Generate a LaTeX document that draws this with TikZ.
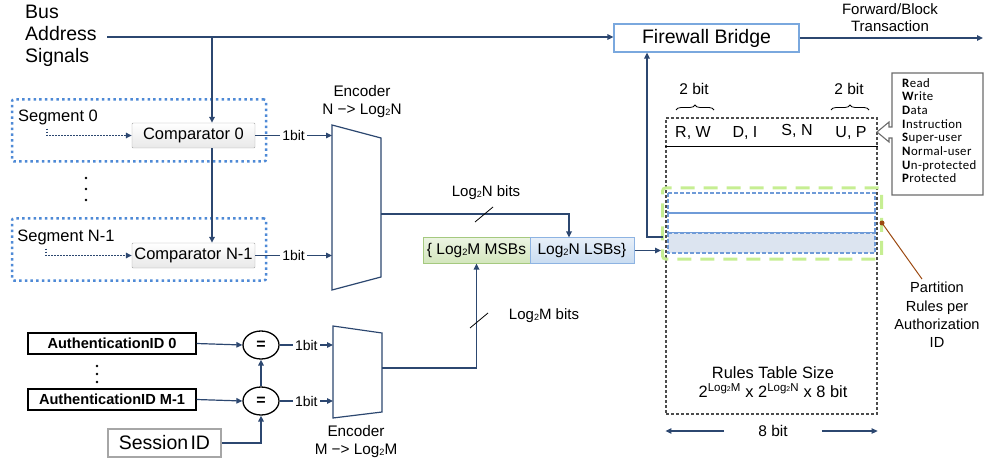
\documentclass[tikz,border=0pt]{standalone}
\usepackage{fontspec}
\usepackage{graphicx}
\setmainfont{Liberation Sans}
\newfontfamily\legendfont[LetterSpace=3]{Carlito}
\usetikzlibrary{arrows.meta,shapes.geometric,decorations.pathreplacing,calc}
\definecolor{navy}{HTML}{2C4770}
\definecolor{segblue}{HTML}{4F8AD6}
\definecolor{fwblue}{HTML}{7AA8DE}
\definecolor{lime}{HTML}{C6EE92}
\definecolor{rowblue}{HTML}{6F9BD8}
\definecolor{rowfill}{HTML}{DCE4F0}
\definecolor{brown}{HTML}{9C4A12}
\definecolor{greenfill}{HTML}{D3E6BD}
\definecolor{greenedge}{HTML}{A5C97F}
\definecolor{bluefill}{HTML}{C9DCF1}
\definecolor{blueedge}{HTML}{8DB3E2}
\newcommand\fsz[2]{\fontsize{#1}{#2}\selectfont}
\newcommand\lgtwo{Log\raisebox{-0.1ex}{\scalebox{0.6}{2}}}
\begin{document}
\begin{tikzpicture}[x=1pt,y=-1pt,
  wire/.style={draw=navy,line width=1.8pt},
  thinwire/.style={draw=navy,line width=1.2pt},
  arr/.style={-{Triangle[length=6pt,width=5.5pt]}},
  cmp/.style={draw=gray!70,top color=white,bottom color=gray!18,minimum width=123pt,minimum height=25pt,inner sep=0pt,rounded corners=1pt,font=\fsz{16.5}{19}},
  seg/.style={draw=segblue,line width=2.5pt,dash pattern=on 2.5pt off 3.2pt,rounded corners=2pt,minimum width=254pt,minimum height=62pt},
  dotarr/.style={draw=navy,line width=1.6pt,dash pattern=on 1.6pt off 1.4pt,-{Triangle[length=6pt,width=5.5pt]}},
  lbl/.style={inner sep=0pt},
  bitlbl/.style={fill=white,inner sep=2pt,font=\fsz{14}{16}},
  enc/.style={draw=navy,line width=1.2pt,fill=white},
  auth/.style={draw=black,line width=1.3pt,minimum width=168pt,minimum height=21pt,inner sep=0pt,font=\bfseries\fsz{14.6}{17}},
  eqn/.style={ellipse,draw=black,line width=1.3pt,minimum width=36pt,minimum height=28pt,inner sep=0pt,font=\bfseries\fsz{16}{18}},
  tblst/.style={draw=black!70,line width=1.2pt,dash pattern=on 3pt off 2pt,minimum width=211pt,minimum height=296pt},
  rowst/.style={draw=rowblue,line width=1.2pt,dash pattern=on 4pt off 2pt},
  partst/.style={draw=lime,line width=3pt,dash pattern=on 14pt off 9pt,rounded corners=3pt,minimum width=219pt,minimum height=71pt},
  bracest/.style={decorate,decoration={brace,amplitude=5pt},draw=black,line width=0.8pt}
]
\useasboundingbox (0,0) rectangle (984,462);

% ---------------- top input
\node[lbl,anchor=west,align=left,font=\fsz{19.5}{22}] (bus) at (25,36) {Bus\\Address\\Signals};
\node[draw=fwblue,line width=1.2pt,minimum width=185pt,minimum height=28pt,inner sep=0pt,font=\fsz{19.5}{22}] (fw) at (706.5,38) {Firewall Bridge};
\coordinate (busS) at (107,37);
\draw[wire,arr] (busS) -- (busS -| fw.west);
\coordinate (j1) at (212,37);

% segments and comparators
\node[seg] (seg0) at (139,130.5) {};
\node[seg] (segN) at (139,249.5) {};
\node[cmp] (cmp0) at (193.5,135.5) {Comparator 0};
\node[cmp] (cmpN) at (193.5,255.5) {Comparator N-1};
\node[lbl,font=\fsz{16.5}{19}] (s0) at (58,117) {Segment 0};
\node[lbl,font=\fsz{16.5}{19}] (sN) at (66,237) {Segment N-1};
\draw[dotarr] ([shift={(29,4)}]s0.south west) |- (cmp0.west);
\draw[dotarr] ([shift={(29,4)}]sN.south west) |- (cmpN.west);
\draw[wire,arr] (j1) -- (j1 |- cmp0.north);
\draw[wire,arr] (j1 |- cmp0.south) -- (j1 |- cmpN.north);
\fill (86,178) circle (1.3pt) (86,189) circle (1.3pt) (86,200) circle (1.3pt);

% encoder N
\draw[enc] (332,125) -- (381,138) -- (381,277) -- (332,290) -- cycle;
\node[lbl,align=center,font=\fsz{15.3}{18}] (encNlbl) at (362,102) {Encoder\\N −> \lgtwo N};
\coordinate (eN1) at (332,135.5);
\coordinate (eN2) at (332,255.5);
\draw[thinwire,arr] (cmp0.east) -- node[bitlbl]{1bit} (eN1);
\draw[thinwire,arr] (cmpN.east) -- node[bitlbl]{1bit} (eN2);
\coordinate (eNo) at (381,214);

% key boxes
\node[draw=greenedge,line width=1pt,top color=greenfill!45,bottom color=greenfill,minimum width=107pt,minimum height=25pt,inner sep=0pt,font=\fsz{15.5}{18}] (msb) at (476.5,250.5) {\{ \lgtwo M MSBs};
\node[draw=blueedge,line width=1pt,top color=bluefill!45,bottom color=bluefill,minimum width=104pt,minimum height=25pt,inner sep=0pt,font=\fsz{15.5}{18}] (lsb) at (582,250.5) {\lgtwo N LSBs\}};
\draw[wire,arr] (eNo) -| ([xshift=-13pt]lsb.north);
\draw[line width=0.8pt] (475,222) -- (493,207);
\node[lbl,font=\fsz{15}{18}] (nbits) at (486,193) {\lgtwo N bits};

% table
\node[tblst] (tbl) at (771.5,266) {};
\draw[black,line width=1pt] ([yshift=-29pt]tbl.north west) -- ([yshift=-29pt]tbl.north east);
\node[lbl,font=\fsz{16}{19}] (c1) at (693,133) {R, W};
\node[lbl,font=\fsz{16}{19}] (c2) at (745,133) {D, I};
\node[lbl,font=\fsz{16}{19}] (c3) at (797,131) {S, N};
\node[lbl,font=\fsz{16}{19}] (c4) at (851,133) {U, P};
\draw[bracest] (676,110) -- (714,110);
\draw[bracest] (831,110) -- (869,110);
\node[lbl,font=\fsz{15.5}{18}] (b1) at (694,89) {2 bit};
\node[lbl,font=\fsz{15.5}{18}] (b2) at (849,89) {2 bit};
\draw[rowst] (668,193) rectangle (875,213);
\draw[rowst] (668,213) rectangle (875,233);
\draw[rowst,fill=rowfill] (668,233) rectangle (875,253);
\node[partst] (part) at (772,223.5) {};
\draw[wire,arr] (lsb.east) -- (lsb.east -| part.west);
\coordinate (rowL) at (663,237);
\coordinate (up) at (647,237);
\draw[wire,arr] (rowL) -- (up) -- (up |- fw.south);
\coordinate (out) at (983,38);
\draw[wire,arr] (fw.east) -- (out);
\node[lbl,align=center,font=\fsz{15}{17}] (fwd) at (890,18) {Forward/Block\\Transaction};

\node[lbl,align=center,font=\fsz{16.4}{19}] (rts) at (773,382) {Rules Table Size\\2\textsuperscript{\lgtwo M} x 2\textsuperscript{\lgtwo N} x 8 bit};
\node[lbl,font=\fsz{15.5}{18}] (eb) at (773,431) {8 bit};
\draw[thinwire,arr] ([xshift=-34pt]eb.west) -- (eb.west -| tbl.west);
\draw[thinwire,arr] ([xshift=34pt]eb.east) -- (eb.east -| tbl.east);

% legend
\draw[draw=gray!85!black,line width=1.1pt,fill=white] (983,73) -- (892,73) -- (892,127) -- (889,127) -- (889,122) -- (877,132) -- (889,142) -- (889,138) -- (892,138) -- (892,195) -- (983,195) -- cycle;
\node[lbl,anchor=north west,align=left,font=\legendfont\fsz{12.8}{13.7}] (leg) at (902,78) {\textbf{R}ead\\\textbf{W}rite\\\textbf{D}ata\\\textbf{I}nstruction\\\textbf{S}uper-user\\\textbf{N}ormal-user\\\textbf{U}n-protected\\\textbf{P}rotected};

% partition label
\coordinate (pdot) at (882,223);
\node[lbl,align=center,font=\fsz{14.6}{18.3}] (ptxt) at (937,315) {Partition\\Rules per\\Authorization\\ID};
\fill[brown] (pdot) circle (2.5pt);
\draw[brown,line width=1pt] (pdot) -- ([shift={(-15,-3)}]ptxt.north);

% bottom
\node[auth] (a0) at (112,343.5) {AuthenticationID 0};
\node[auth] (aM) at (112,399.5) {AuthenticationID M-1};
\fill (97,366) circle (1.3pt) (97,374) circle (1.3pt) (97,382) circle (1.3pt);
\node[eqn] (q0) at (261,345) {=};
\node[eqn] (qM) at (261,401) {=};
\node[draw=gray!70,line width=1.5pt,minimum width=113pt,minimum height=28pt,inner sep=0pt,font=\fsz{19.5}{22}] (sid) at (164.5,443) {Session\hspace{0.12em}ID};
\draw[thinwire,arr] (a0.east) -- (q0.west);
\draw[thinwire,arr] (aM.east) -- (qM.west);
\draw[wire,arr] (qM.north) -- (q0.south);
\draw[wire,arr] (sid.east) -| (qM.south);
\draw[enc] (333,326) -- (382,333) -- (382,412) -- (333,418) -- cycle;
\coordinate (eM1) at (333,345);
\coordinate (eM2) at (333,401);
\draw[thinwire,arr] (q0.east) -- node[bitlbl]{1bit} (eM1);
\draw[thinwire,arr] (qM.east) -- node[bitlbl]{1bit} (eM2);
\node[lbl,align=center,font=\fsz{15.3}{18}] (encMlbl) at (356,442) {Encoder\\M −> \lgtwo M};
\coordinate (eMo) at (382,368);
\draw[wire,arr] (eMo) -| (msb.south);
\draw[line width=0.8pt] (470,328) -- (488,313);
\node[lbl,font=\fsz{15}{18}] (mbits) at (544,316) {\lgtwo M bits};
\end{tikzpicture}
\end{document}
